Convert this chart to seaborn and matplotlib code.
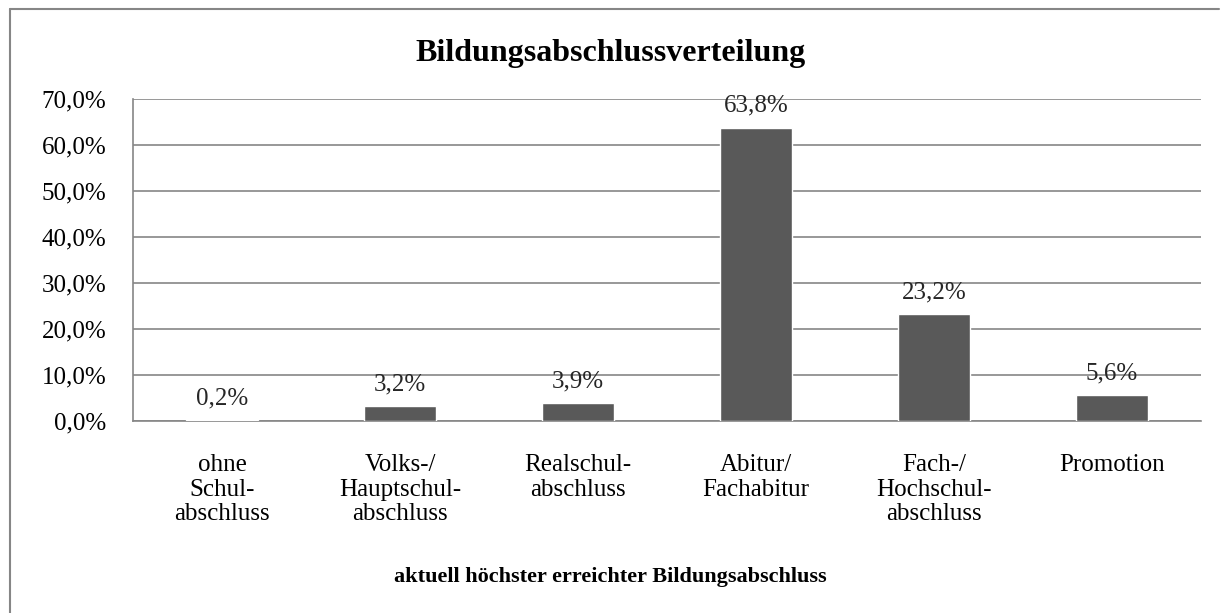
import matplotlib
matplotlib.use("Agg")
import matplotlib.pyplot as plt
import seaborn as sns
import pandas as pd
from matplotlib.lines import Line2D

# data
categories = ["ohne\nSchul-\nabschluss", "Volks-/\nHauptschul-\nabschluss", "Realschul-\nabschluss",
              "Abitur/\nFachabitur", "Fach-/\nHochschul-\nabschluss", "Promotion"]
values = [0.2, 3.2, 3.9, 63.8, 23.2, 5.6]
yticks = [0, 10, 20, 30, 40, 50, 60, 70]

df = pd.DataFrame({"Abschluss": categories, "Anteil": values})

sns.set_style("white")
plt.rcParams['font.family'] = ['Liberation Serif', 'DejaVu Serif']

fig = plt.figure(figsize=(12.21, 6.13), dpi=100)
ax = fig.add_axes([133 / 1221, 1 - 421 / 613, (1201 - 133) / 1221, (421 - 99) / 613])

sns.barplot(data=df, x="Abschluss", y="Anteil", color="#595959", width=0.4,
            saturation=1, ax=ax, zorder=3)

ax.set_ylim(0, 70)
ax.set_yticks(yticks)
ax.set_yticklabels([f"{t:.1f}%".replace(".", ",") for t in yticks], fontsize=18, color="black")
ax.yaxis.grid(True, color="#868686", linewidth=1.2, zorder=0)
ax.tick_params(axis="y", length=0, pad=19)
ax.tick_params(axis="x", length=0, labelsize=18, pad=24, labelcolor="black")
for lab in ax.get_xticklabels():
    lab.set_linespacing(1.13)

for s in ["top", "right"]:
    ax.spines[s].set_visible(False)
for s in ["left", "bottom"]:
    ax.spines[s].set_color("#868686")
    ax.spines[s].set_linewidth(1.2)

for i, v in enumerate(values):
    ax.text(i, v + 2.35, f"{v:.1f}%".replace(".", ","), ha="center", va="bottom", fontsize=18)

ax.set_xlabel("")
ax.set_ylabel("")
fig.text(0.5, 1 - 577 / 613, "aktuell höchster erreichter Bildungsabschluss", ha="center",
         va="center", fontsize=16, fontweight="bold", color="black")
fig.text(0.5, 1 - 53 / 613, "Bildungsabschlussverteilung", ha="center", va="center",
         fontsize=23, fontweight="bold", color="black")

# outer chart frame
fig.add_artist(Line2D([10 / 1221, 10 / 1221], [0, 1 - 9 / 613], color="#868686", lw=1.5))
fig.add_artist(Line2D([10 / 1221, 1219 / 1221], [1 - 9 / 613, 1 - 9 / 613], color="#868686", lw=1.5))

fig.savefig("out.png", dpi=100)
